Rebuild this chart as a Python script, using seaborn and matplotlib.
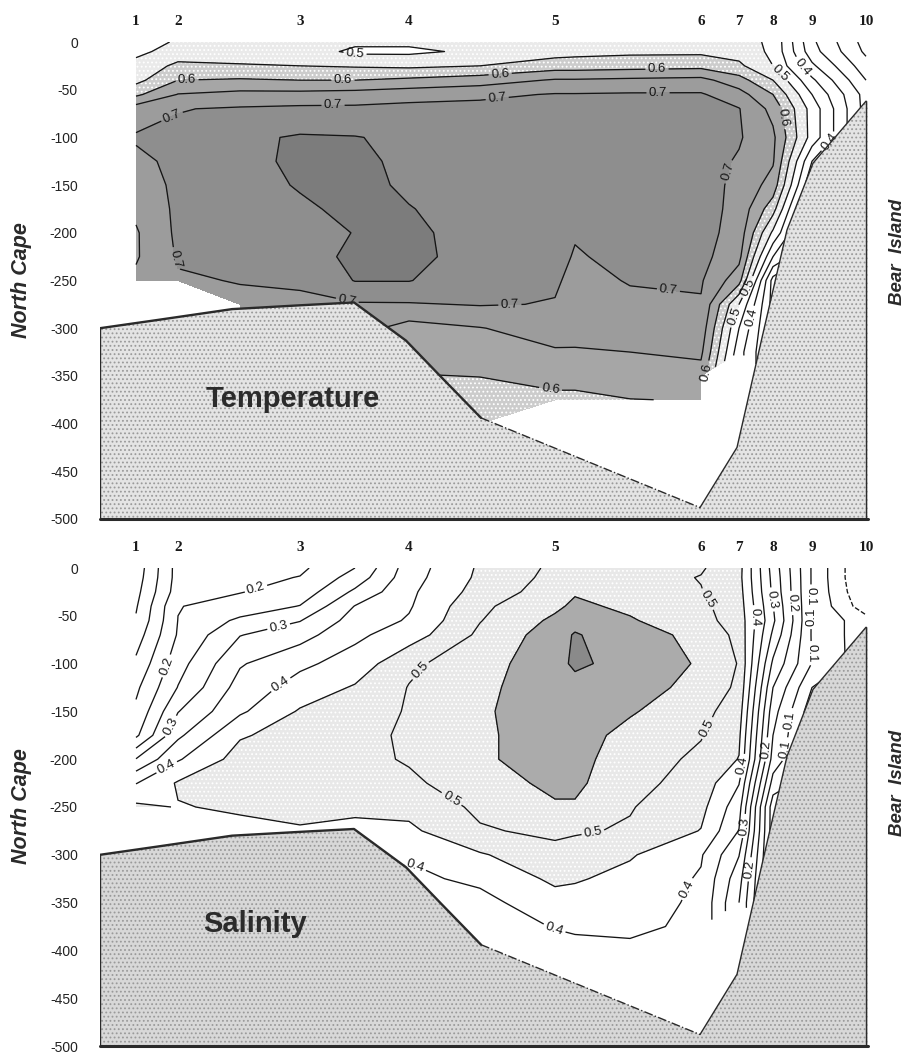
import numpy as np
import pandas as pd
import seaborn as sns
import matplotlib
matplotlib.use("Agg")
import matplotlib.pyplot as plt
from matplotlib import transforms

n = np.nan

# ---------------- data ----------------
station_labels = ["1", "2", "3", "4", "5", "6", "7", "8", "9", "10"]
station_x = [36, 78, 200, 309, 455, 601, 639, 673, 712, 766]

grid_x = [36, 78, 140, 200, 255, 309, 380, 455, 475, 530, 601, 639, 673, 712, 766]
grid_depth = [0, -10, -25, -40, -55, -70, -100, -125, -150, -175, -200, -225,
              -250, -275, -300, -325, -350, -375, -400, -450, -500]

temperature = [
    [0.46, 0.51, 0.502, 0.52, 0.51, 0.51, 0.505, 0.52, 0.525, 0.53, 0.53, 0.52, 0.49, 0.31, 0.18],
    [0.485, 0.525, 0.52, 0.525, 0.49, 0.49, 0.51, 0.53, 0.535, 0.54, 0.54, 0.53, 0.49, 0.32, 0.19],
    [0.52, 0.56, 0.555, 0.55, 0.545, 0.54, 0.55, 0.575, 0.575, 0.58, 0.585, 0.56, 0.50, 0.36, 0.22],
    [0.535, 0.60, 0.605, 0.60, 0.60, 0.61, 0.625, 0.655, 0.655, 0.66, 0.665, 0.62, 0.55, 0.41, 0.25],
    [0.59, 0.652, 0.665, 0.665, 0.67, 0.68, 0.69, 0.703, 0.703, 0.705, 0.705, 0.67, 0.60, 0.45, 0.28],
    [0.675, 0.698, 0.705, 0.71, 0.71, 0.715, 0.715, 0.71, 0.71, 0.715, 0.715, 0.702, 0.635, 0.48, 0.28],
    [0.705, 0.71, 0.74, 0.755, 0.752, 0.74, 0.725, 0.72, 0.72, 0.72, 0.72, 0.705, 0.66, 0.48, 0.28],
    [0.69, 0.71, 0.735, 0.76, 0.76, 0.74, 0.725, 0.72, 0.72, 0.72, 0.72, 0.695, 0.655, 0.40, 0.28],
    [0.675, 0.71, 0.725, 0.755, 0.765, 0.742, 0.728, 0.725, 0.725, 0.725, 0.72, 0.688, 0.63, 0.35, 0.28],
    [0.66, 0.71, 0.72, 0.74, 0.765, 0.752, 0.73, 0.725, 0.725, 0.725, 0.72, 0.685, 0.57, 0.28, 0.28],
    [0.645, 0.71, 0.715, 0.725, 0.752, 0.758, 0.735, 0.725, 0.705, 0.72, 0.718, 0.68, 0.49, 0.28, 0.28],
    [0.645, 0.705, 0.712, 0.72, 0.765, 0.758, 0.738, 0.72, 0.695, 0.715, 0.715, 0.665, 0.40, 0.28, 0.28],
    [0.66, 0.695, 0.702, 0.705, 0.752, 0.752, 0.715, 0.705, 0.69, 0.702, 0.705, 0.62, 0.28, 0.28, 0.28],
    [n, n, 0.69, 0.693, 0.695, 0.696, 0.703, 0.698, 0.685, 0.693, 0.696, 0.50, 0.28, 0.28, 0.28],
    [n, n, 0.685, 0.685, 0.67, 0.63, 0.648, 0.672, 0.67, 0.675, 0.68, 0.45, 0.28, 0.28, 0.28],
    [n, n, n, n, 0.64, 0.62, 0.63, 0.645, 0.645, 0.65, 0.66, 0.42, 0.28, 0.28, 0.28],
    [n, n, n, n, n, 0.598, 0.601, 0.615, 0.615, 0.625, 0.63, n, 0.28, 0.28, 0.28],
    [n, n, n, n, n, 0.58, 0.58, 0.59, 0.59, 0.599, 0.602, n, 0.28, 0.28, 0.28],
    [n, n, n, n, n, 0.57, 0.57, n, n, n, n, n, 0.28, 0.28, 0.28],
    [n, n, n, n, n, n, n, n, n, n, n, n, 0.28, 0.28, 0.28],
    [n, n, n, n, n, n, n, n, n, n, n, n, 0.28, 0.28, 0.28],
]

salinity = [
    [0.02, 0.17, 0.18, 0.19, 0.25, 0.375, 0.457, 0.51, 0.515, 0.52, 0.505, 0.467, 0.28, 0.095, -0.06],
    [0.025, 0.17, 0.185, 0.202, 0.27, 0.38, 0.46, 0.515, 0.52, 0.52, 0.498, 0.465, 0.285, 0.095, -0.06],
    [0.035, 0.175, 0.198, 0.22, 0.31, 0.39, 0.47, 0.525, 0.545, 0.53, 0.502, 0.47, 0.29, 0.095, -0.05],
    [0.045, 0.198, 0.22, 0.252, 0.352, 0.395, 0.49, 0.54, 0.56, 0.54, 0.51, 0.475, 0.302, 0.095, -0.03],
    [0.055, 0.201, 0.26, 0.298, 0.37, 0.405, 0.498, 0.56, 0.58, 0.555, 0.515, 0.48, 0.31, 0.095, 0.02],
    [0.075, 0.205, 0.298, 0.33, 0.39, 0.425, 0.51, 0.575, 0.605, 0.565, 0.54, 0.485, 0.29, 0.095, 0.02],
    [0.11, 0.23, 0.345, 0.39, 0.42, 0.49, 0.53, 0.58, 0.61, 0.58, 0.545, 0.497, 0.24, 0.098, 0.02],
    [0.14, 0.252, 0.37, 0.42, 0.455, 0.502, 0.54, 0.575, 0.58, 0.57, 0.535, 0.49, 0.20, 0.05, 0.02],
    [0.16, 0.298, 0.392, 0.455, 0.47, 0.505, 0.545, 0.57, 0.575, 0.555, 0.515, 0.475, 0.17, 0.02, 0.02],
    [0.19, 0.34, 0.445, 0.47, 0.48, 0.51, 0.545, 0.565, 0.57, 0.535, 0.503, 0.46, 0.15, 0.02, 0.02],
    [0.302, 0.395, 0.47, 0.48, 0.485, 0.505, 0.545, 0.565, 0.565, 0.525, 0.49, 0.448, 0.13, 0.02, 0.02],
    [0.398, 0.455, 0.47, 0.48, 0.475, 0.49, 0.53, 0.56, 0.56, 0.515, 0.48, 0.402, 0.08, 0.02, 0.02],
    [0.46, 0.448, 0.455, 0.465, 0.458, 0.465, 0.51, 0.545, 0.545, 0.503, 0.465, 0.37, 0.02, 0.02, 0.02],
    [n, n, 0.44, 0.445, 0.44, 0.44, 0.495, 0.51, 0.505, 0.495, 0.448, 0.348, 0.02, 0.02, 0.02],
    [n, n, 0.43, 0.43, 0.42, 0.405, 0.445, 0.485, 0.48, 0.455, 0.405, 0.302, 0.02, 0.02, 0.02],
    [n, n, n, n, 0.41, 0.39, 0.41, 0.46, 0.455, 0.435, 0.395, 0.27, 0.02, 0.02, 0.02],
    [n, n, n, n, n, 0.38, 0.385, 0.43, 0.43, 0.425, 0.39, 0.25, 0.02, 0.02, 0.02],
    [n, n, n, n, n, 0.375, 0.38, 0.402, 0.405, 0.41, 0.39, n, 0.02, 0.02, 0.02],
    [n, n, n, n, n, 0.37, 0.375, 0.385, 0.39, 0.39, 0.38, n, 0.02, 0.02, 0.02],
    [n, n, n, n, n, n, 0.37, 0.375, 0.375, 0.38, 0.37, n, 0.02, 0.02, 0.02],
    [n, n, n, n, n, n, n, 0.37, 0.37, 0.37, 0.37, n, 0.02, 0.02, 0.02],
]

# sea-floor profile (North Cape bank -> channel -> Bear Island slope)
topo_x = [0, 60, 132, 200, 254, 306, 341, 381, 600, 637, 662, 687, 713, 766]
topo_depth = [-300, -291, -280, -276, -273, -313, -351, -394, -488, -425, -310, -197, -127, -62]

depth_ticks = [0, -50, -100, -150, -200, -250, -300, -350, -400, -450, -500]

temp_plain = [0.25, 0.35, 0.45, 0.55, 0.65, 0.75]
temp_labelled = [0.2, 0.3, 0.4, 0.5, 0.6, 0.7]
sal_plain = [0.05, 0.15, 0.25, 0.35, 0.45, 0.55]
sal_labelled = [0.0, 0.1, 0.2, 0.3, 0.4, 0.5, 0.6]

# ---------------- styling ----------------
sns.set_theme(style="white")
plt.rcParams["font.family"] = ["Liberation Sans", "DejaVu Sans"]
plt.rcParams["axes.unicode_minus"] = False
plt.rcParams["hatch.linewidth"] = 0.8
plt.rcParams["hatch.color"] = "#8a8a8a"

W, H = 909, 1053
fig = plt.figure(figsize=(W / 100, H / 100), dpi=100)
fig.patch.set_facecolor("white")

ax_t = fig.add_axes([100 / W, 1 - 519 / H, 768 / W, 477 / H])
ax_s = fig.add_axes([100 / W, 1 - 1046 / H, 768 / W, 478 / H])

X, Y = np.meshgrid(np.array(grid_x, float), np.array(grid_depth, float))


def fmt_label(v):
    return "0" if abs(v) < 1e-9 else f"{v:.1f}"


def draw_panel(ax, values, plain, labelled, fill_levels, fill_colors, fill_hatches,
               label_pos, title, title_xy, land_face):
    Z = np.ma.masked_invalid(np.array(values, float))
    ax.contourf(X, Y, Z, levels=fill_levels, colors=fill_colors,
                hatches=fill_hatches, zorder=1)
    ax.contour(X, Y, Z, levels=plain, colors="#151515", linewidths=0.95,
               linestyles="-", zorder=2)
    styles = ["--" if abs(l) < 1e-9 else "-" for l in labelled]
    cs = ax.contour(X, Y, Z, levels=labelled, colors="#151515", linewidths=0.95,
                    linestyles=styles, zorder=2)
    try:
        ax.clabel(cs, manual=label_pos, inline=True,
                  fmt=fmt_label, fontsize=9.5, inline_spacing=3)
    except Exception:
        ax.clabel(cs, inline=True, fmt=fmt_label, fontsize=9.5)

    # land
    land_x = topo_x + [768, 768, 0]
    land_y = topo_depth + [-62, -500, -500]
    ax.fill(land_x, land_y, facecolor=land_face, edgecolor="#9a9a9a",
            hatch="....", linewidth=0, zorder=3)

    # outline of the sea floor
    segs = [(0, 8, "-", 1.7), (7, 9, "-.", 1.0), (8, 14, "-", 1.0)]
    for i0, i1, ls, lw in segs:
        sns.lineplot(x=topo_x[i0:i1], y=topo_depth[i0:i1], sort=False,
                     estimator=None, color="#2a2a2a", linewidth=lw,
                     linestyle=ls, ax=ax, legend=False, zorder=4)
    ax.plot([766, 766], [topo_depth[-1], -500], color="#2a2a2a", lw=1.0, zorder=4)
    ax.plot([0, 0], [topo_depth[0], -500], color="#2a2a2a", lw=1.0, zorder=4)
    ax.plot([0, 768], [-500, -500], color="#2a2a2a", lw=2.2, zorder=4,
            clip_on=False)

    ax.text(title_xy[0], title_xy[1], title, fontsize=21, fontweight="bold",
            ha="center", va="center", color="#2b2b2b", zorder=6)

    ax.set_xlim(0, 768)
    ax.set_ylim(-500, 0)
    ax.set_xticks([])
    ax.set_yticks(depth_ticks)
    ax.set_yticklabels([str(v) for v in depth_ticks])
    ax.tick_params(axis="y", length=0, pad=16, labelsize=10, labelcolor="#222222")
    for sp in ax.spines.values():
        sp.set_visible(False)
    ax.set_xlabel("")
    ax.set_ylabel("")
    ax.set_facecolor("none")

    tr = transforms.blended_transform_factory(ax.transData, ax.transAxes)
    for sx, sl in zip(station_x, station_labels):
        ax.text(sx, 1.043, sl, transform=tr, ha="center", va="center",
                fontsize=11, fontweight="bold", family=["Liberation Serif", "DejaVu Serif"],
                color="#1a1a1a")


temp_label_pos = [(255, -18), (87, -40), (243, -38), (400, -31), (557, -28),
                  (77, -91), (233, -60), (397, -57), (558, -45), (74, -228),
                  (248, -267), (410, -281), (567, -275), (622, -134), (687, -78),
                  (680, -32), (698, -31), (725, -100), (648, -257), (639, -289),
                  (652, -289), (451, -361), (605, -377)]
sal_label_pos = [(160, -37), (63, -101), (180, -68), (68, -164), (183, -126),
                 (67, -209), (357, -145), (353, -239), (493, -277), (317, -307),
                 (457, -370), (593, -339), (607, -33), (610, -169), (660, -51),
                 (672, -33), (688, -37), (710, -30), (733, -51), (723, -89),
                 (647, -208), (668, -190), (690, -159), (687, -190), (645, -270),
                 (648, -315)]

draw_panel(ax_t, temperature, temp_plain, temp_labelled,
           [0.5, 0.55, 0.6, 0.65, 0.7, 0.75, 1.0],
           ["#eaeaea", "#cccccc", "#a6a6a6", "#9c9c9c", "#8e8e8e", "#7c7c7c"],
           ["....", "....", "", "", "", ""],
           temp_label_pos, "Temperature", (193, -374), "#e4e4e4")

draw_panel(ax_s, salinity, sal_plain, sal_labelled,
           [0.45, 0.55, 0.6, 1.0],
           ["#e8e8e8", "#ababab", "#8a8a8a"],
           ["....", "", ""],
           sal_label_pos, "Salinity", (155, -372), "#d8d8d8")

for yc in (280, 806):
    fig.text(22 / W, 1 - yc / H, "North Cape", rotation=90, ha="center", va="center",
             fontsize=15.5, fontweight="bold", fontstyle="italic", color="#2a2a2a")
for yc in (252, 783):
    fig.text(897 / W, 1 - yc / H, "Bear  Island", rotation=90, ha="center", va="center",
             fontsize=13.5, fontweight="bold", fontstyle="italic", color="#2a2a2a")

fig.savefig("out.png", dpi=100, facecolor="white")
